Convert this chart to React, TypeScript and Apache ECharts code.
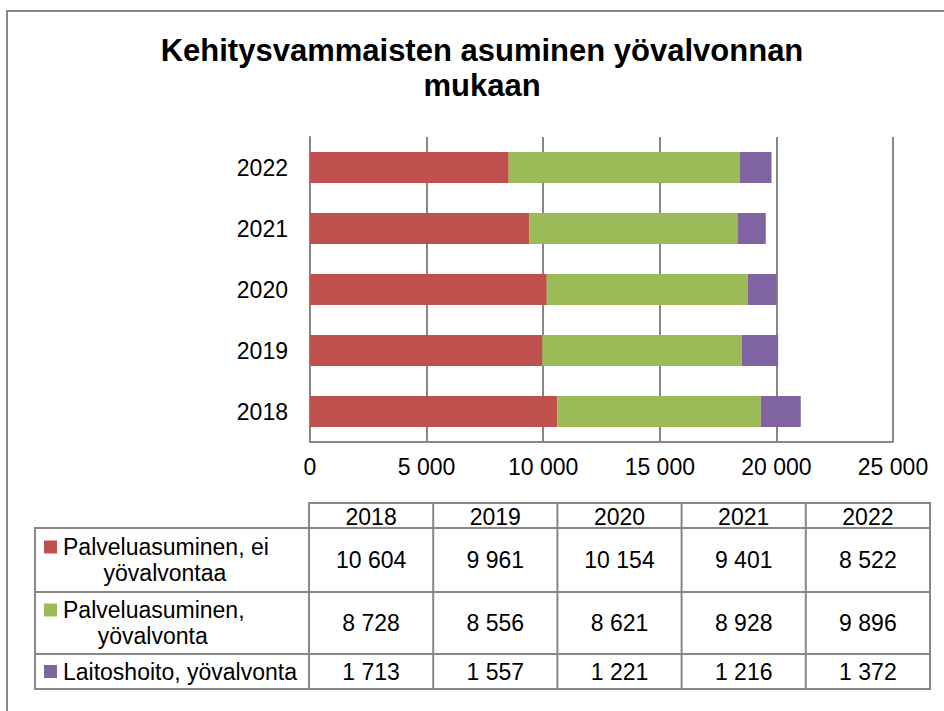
import React, { useEffect, useRef } from "react";
import * as echarts from "echarts";

const years = ["2018", "2019", "2020", "2021", "2022"];
const palveluEi = [10604, 9961, 10154, 9401, 8522];
const palveluYo = [8728, 8556, 8621, 8928, 9896];
const laitos = [1713, 1557, 1221, 1216, 1372];
const seriesNames = [
  "Palveluasuminen, ei yövalvontaa",
  "Palveluasuminen, yövalvonta",
  "Laitoshoito, yövalvonta",
];
const tableLabelLines = [
  ["Palveluasuminen, ei", "yövalvontaa"],
  ["Palveluasuminen,", "yövalvonta"],
  ["Laitoshoito, yövalvonta"],
];
const colors = ["#C0504D", "#9BBB59", "#8064A2"];
const xMax = 25000;
const xInterval = 5000;
const titleText = "Kehitysvammaisten asuminen yövalvonnan\nmukaan";

const FONT = "'Liberation Sans', Arial, sans-serif";
const LINE = "#878787";

const fmt = (n: number) => String(n).replace(/\B(?=(\d{3})+(?!\d))/g, " ");

function measure(text: string, size: number) {
  const c = document.createElement("canvas").getContext("2d");
  if (!c) return text.length * size * 0.5;
  c.font = `${size}px ${FONT}`;
  return c.measureText(text).width;
}

export default function App() {
  const ref = useRef<HTMLDivElement>(null);
  useEffect(() => {
    if (!ref.current) return;
    const chart = echarts.init(ref.current, undefined, { renderer: "svg" });
    const seriesData = [palveluEi, palveluYo, laitos];

    // table layout
    const tLeft = 35;
    const cLeft = 309;
    const cRight = 930;
    const colW = (cRight - cLeft) / years.length;
    const headTop = 503;
    const rowBounds = [528, 592, 654, 689];
    const fs = 23;
    const g: any[] = [];
    // outer chart frame
    g.push({
      type: "rect",
      shape: { x: 7, y: 11, width: 1200, height: 1000 },
      style: { fill: "none", stroke: LINE, lineWidth: 2 },
      silent: true,
    });
    const ln = (x1: number, y1: number, x2: number, y2: number) =>
      g.push({
        type: "line",
        shape: { x1, y1, x2, y2 },
        style: { stroke: LINE, lineWidth: 2 },
        silent: true,
      });
    ln(cLeft - 1, headTop, cRight + 1, headTop);
    rowBounds.forEach((y) => ln(tLeft - 1, y, cRight + 1, y));
    ln(tLeft, rowBounds[0], tLeft, rowBounds[rowBounds.length - 1]);
    for (let i = 0; i <= years.length; i++) {
      const x = cLeft + i * colW;
      ln(x, headTop, x, rowBounds[rowBounds.length - 1]);
    }
    const txt = (text: string, x: number, y: number, align = "center") =>
      g.push({
        type: "text",
        x,
        y,
        style: {
          text,
          font: `${fs}px ${FONT}`,
          fill: "#000",
          align,
          verticalAlign: "middle",
        },
        silent: true,
      });
    years.forEach((yr, i) => txt(yr, cLeft + (i + 0.5) * colW, (headTop + rowBounds[0]) / 2 + 1));
    seriesData.forEach((arr, r) => {
      const yc = (rowBounds[r] + rowBounds[r + 1]) / 2;
      arr.forEach((v, i) => txt(fmt(v), cLeft + (i + 0.5) * colW, yc));
      const lines = tableLabelLines[r];
      const lh = 26;
      const y0 = yc - ((lines.length - 1) * lh) / 2;
      const textX = 63;
      const w1 = measure(lines[0], fs);
      g.push({
        type: "rect",
        shape: { x: 44, y: y0 - 6.5, width: 13, height: 13 },
        style: { fill: colors[r] },
        silent: true,
      });
      txt(lines[0], textX, y0, "left");
      for (let k = 1; k < lines.length; k++) {
        txt(lines[k], textX + w1 / 2 - 1, y0 + k * lh);
      }
    });

    chart.setOption({
      animation: false,
      title: {
        text: titleText,
        left: 482,
        top: 33,
        textAlign: "center",
        padding: 0,
        textStyle: {
          fontFamily: FONT,
          fontSize: 31,
          fontWeight: "bold",
          color: "#000",
          lineHeight: 35,
        },
      },
      grid: { left: 310, top: 137, width: 583, height: 305, containLabel: false },
      xAxis: {
        type: "value",
        min: 0,
        max: xMax,
        interval: xInterval,
        axisLine: { show: true, lineStyle: { color: LINE, width: 2 } },
        axisTick: { show: false },
        splitLine: { show: true, lineStyle: { color: LINE, width: 2 } },
        axisLabel: {
          formatter: (v: number) => fmt(v),
          fontFamily: FONT,
          fontSize: 23,
          color: "#000",
          margin: 13,
        },
      },
      yAxis: {
        type: "category",
        data: years,
        axisLine: { show: true, lineStyle: { color: LINE, width: 2 } },
        axisTick: { show: false },
        splitLine: { show: false },
        axisLabel: { fontFamily: FONT, fontSize: 23, color: "#000", margin: 22 },
      },
      series: seriesData.map((d, i) => ({
        name: seriesNames[i],
        type: "bar",
        stack: "total",
        data: d,
        barWidth: 31,
        itemStyle: { color: colors[i] },
      })),
      graphic: g,
    });
    return () => chart.dispose();
  }, []);
  return (
    <div
      ref={ref}
      style={{ position: "absolute", left: 0, top: 0, width: 944, height: 711, background: "#fff" }}
    />
  );
}
